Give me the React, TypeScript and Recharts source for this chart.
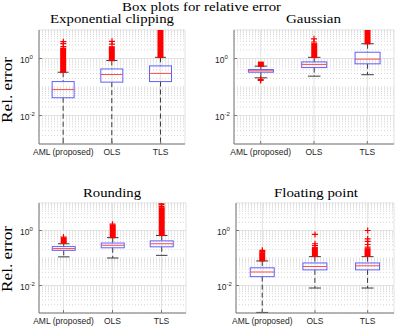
import { Bar, CartesianGrid, ComposedChart, Scatter, XAxis, YAxis } from "recharts";

const CATEGORIES = ["AML (proposed)", "OLS", "TLS"];
const Y_DOMAIN = [0.001, 10];
const MAJOR_TICKS = [0.01, 1];
const MINOR_TICKS = [
  0.001, 0.002, 0.003, 0.004, 0.005, 0.006, 0.007, 0.008, 0.009,
  0.02, 0.03, 0.04, 0.05, 0.06, 0.07, 0.08, 0.09,
  0.1, 0.2, 0.3, 0.4, 0.5, 0.6, 0.7, 0.8, 0.9,
  2, 3, 4, 5, 6, 7, 8, 9, 10,
];

// each box: [lower whisker, q1, median, q3, upper whisker]
type BoxStat = [number, number, number, number, number];

const EXP_BOXES: BoxStat[] = [
  [0.0005, 0.042, 0.081, 0.155, 0.33],
  [0.0005, 0.148, 0.275, 0.43, 0.85],
  [0.0005, 0.155, 0.3, 0.55, 1.1],
];
const EXP_DENSE = [[0.34, 2.2], [0.87, 2.5], [1.12, 10]];
const EXP_SPARSE = [[2.6, 3.3, 3.9], [3.2, 4.0], []];

const GAUSS_BOXES: BoxStat[] = [
  [0.21, 0.33, 0.37, 0.41, 0.54],
  [0.24, 0.48, 0.62, 0.76, 1.1],
  [0.27, 0.65, 0.95, 1.66, 3.3],
];
const GAUSS_DENSE = [[0.55, 0.72], [1.12, 3.2], [3.4, 10]];
const GAUSS_SPARSE = [[0.185, 0.17], [3.8, 4.9], []];

const ROUND_BOXES: BoxStat[] = [
  [0.11, 0.19, 0.22, 0.26, 0.33],
  [0.1, 0.235, 0.29, 0.35, 0.55],
  [0.125, 0.255, 0.33, 0.42, 0.66],
];
const ROUND_DENSE = [[0.36, 0.52], [0.57, 1.5], [0.68, 6.5]];
const ROUND_SPARSE = [[0.58], [1.7], [7.5, 8.7, 9.8]];

const FLOAT_BOXES: BoxStat[] = [
  [0.00105, 0.021, 0.031, 0.044, 0.078],
  [0.0081, 0.037, 0.049, 0.066, 0.112],
  [0.0081, 0.037, 0.052, 0.066, 0.112],
];
const FLOAT_DENSE = [[0.082, 0.15], [0.118, 0.23], [0.118, 0.21]];
const FLOAT_SPARSE = [[0.17, 0.19], [0.28, 0.33, 0.72], [0.25, 0.31, 0.4, 0.5, 1.0]];

const SANS = "'Liberation Sans', Arial, sans-serif";
const SERIF = "'Liberation Serif', 'Times New Roman', serif";
const BORDER = "#7a7a7a";
const BOX_BLUE = "#5f5fff";
const MEDIAN_RED = "#ff4a4a";
const OUTLIER_RED = "#ff0000";
const WHISKER = "#3a3a3a";

function toRows(boxes: BoxStat[], dense: number[][]) {
  return CATEGORIES.map((name, i) => {
    const [lo, q1, med, q3, hi] = boxes[i];
    return { name, low: [lo, q1], up: [q3, hi], box: [q1, q3], med: [q1, med], dense: dense[i] };
  });
}

function toOutliers(sparse: number[][]) {
  return CATEGORIES.flatMap((name, i) => sparse[i].map((v) => ({ name, v })));
}

const BoxShape = (p: any) => (
  <rect x={p.x} y={p.y} width={p.width} height={p.height} fill="none" stroke={BOX_BLUE} strokeWidth={1} />
);

const MedianShape = (p: any) => (
  <line x1={p.x} x2={p.x + p.width} y1={p.y} y2={p.y} stroke={MEDIAN_RED} strokeWidth={1} />
);

const UpperWhisker = (p: any) => {
  const cx = p.x + p.width / 2;
  return (
    <g>
      <line x1={cx} x2={cx} y1={p.y} y2={p.y + p.height} stroke={WHISKER} strokeDasharray="5 3" />
      <line x1={cx - p.width / 4} x2={cx + p.width / 4} y1={p.y} y2={p.y} stroke={WHISKER} />
    </g>
  );
};

const LowerWhisker = (p: any) => {
  const cx = p.x + p.width / 2;
  const yb = p.y + p.height;
  return (
    <g>
      <line x1={cx} x2={cx} y1={p.y} y2={yb} stroke={WHISKER} strokeDasharray="5 3" />
      <line x1={cx - p.width / 4} x2={cx + p.width / 4} y1={yb} y2={yb} stroke={WHISKER} />
    </g>
  );
};

const DenseOutliers = (p: any) => {
  const cx = p.x + p.width / 2;
  return <rect x={cx - 3} y={p.y - 1} width={6} height={p.height + 2} fill={OUTLIER_RED} />;
};

const PlusShape = (p: any) => (
  <path d={`M${p.cx - 3},${p.cy}H${p.cx + 3}M${p.cx},${p.cy - 3}V${p.cy + 3}`} stroke={OUTLIER_RED} strokeWidth={1.2} />
);

const YTickLabel = (p: any) => {
  const exp = Math.round(Math.log10(p.payload.value));
  return (
    <g>
      <line x1={p.x} x2={p.x + 3} y1={p.y} y2={p.y} stroke={BORDER} />
      <text x={p.x - 19} y={p.y + 4} fontSize={8.5} fontFamily={SANS} fill="#262626">
        10
        <tspan dy={-4} fontSize={6}>
          {exp}
        </tspan>
      </text>
    </g>
  );
};

const MinorLeft = (p: any) => <line x1={p.x} x2={p.x + 1.5} y1={p.y} y2={p.y} stroke={BORDER} />;
const MinorRight = (p: any) => <line x1={p.x} x2={p.x - 1.5} y1={p.y} y2={p.y} stroke={BORDER} />;
const MajorRight = (p: any) => <line x1={p.x} x2={p.x - 3} y1={p.y} y2={p.y} stroke={BORDER} />;

const XTickLabel = (p: any) => (
  <g>
    <line x1={p.x} x2={p.x} y1={p.y} y2={p.y - 3} stroke={BORDER} />
    <text x={p.x} y={p.y + 11} textAnchor="middle" fontSize={8.5} fontFamily={SANS} fill="#262626">
      {p.payload.value}
    </text>
  </g>
);

const TopTick = (p: any) => <line x1={p.x} x2={p.x} y1={p.y} y2={p.y + 3} stroke={BORDER} />;

type PanelProps = {
  boxes: BoxStat[];
  dense: number[][];
  sparse: number[][];
  left: number;
  right: number;
  top: number;
  bottom: number;
};

function BoxPanel({ boxes, dense, sparse, left, right, top, bottom }: PanelProps) {
  const rows = toRows(boxes, dense);
  const outliers = toOutliers(sparse);
  const logAxis = { type: "number" as const, scale: "log" as const, domain: Y_DOMAIN, allowDataOverflow: true };
  return (
    <div style={{ position: "absolute", left: 0, top: 0 }}>
      <ComposedChart
        width={399}
        height={330}
        data={rows}
        barCategoryGap="27%"
        margin={{ top, left: left - 30, right: 399 - right, bottom: 330 - bottom - 14 }}
      >
        <XAxis
          dataKey="name"
          type="category"
          allowDuplicatedCategory={false}
          height={14}
          interval={0}
          tickSize={0}
          tickMargin={0}
          tickLine={false}
          axisLine={{ stroke: BORDER }}
          tick={XTickLabel}
        />
        <XAxis
          xAxisId="top"
          orientation="top"
          dataKey="name"
          allowDuplicatedCategory={false}
          height={0}
          interval={0}
          tickSize={0}
          tickMargin={0}
          tickLine={false}
          axisLine={{ stroke: BORDER }}
          tick={TopTick}
        />
        {["b1", "b2", "b3", "b5"].map((id) => (
          <XAxis key={id} xAxisId={id} dataKey="name" type="category" hide />
        ))}
        <YAxis
          {...logAxis}
          ticks={MAJOR_TICKS}
          interval={0}
          width={30}
          tickSize={0}
          tickMargin={0}
          tickLine={false}
          axisLine={{ stroke: BORDER }}
          tick={YTickLabel}
        />
        <YAxis yAxisId="minor" {...logAxis} ticks={MINOR_TICKS} interval={0} width={0} tickSize={0} tickMargin={0} tickLine={false} axisLine={false} tick={MinorLeft} />
        <YAxis yAxisId="right" orientation="right" {...logAxis} ticks={MAJOR_TICKS} interval={0} width={0} tickSize={0} tickMargin={0} tickLine={false} axisLine={{ stroke: BORDER }} tick={MajorRight} />
        <YAxis yAxisId="minorRight" orientation="right" {...logAxis} ticks={MINOR_TICKS} interval={0} width={0} tickSize={0} tickMargin={0} tickLine={false} axisLine={false} tick={MinorRight} />
        <YAxis yAxisId="sc" dataKey="v" {...logAxis} hide />
        <CartesianGrid yAxisId="minor" vertical={false} stroke="#d4d4d4" strokeDasharray="1 2" />
        <CartesianGrid stroke="#e2e2e2" />
        <Bar xAxisId="b1" dataKey="low" shape={LowerWhisker} isAnimationActive={false} />
        <Bar xAxisId="b2" dataKey="up" shape={UpperWhisker} isAnimationActive={false} />
        <Bar xAxisId="b3" dataKey="dense" shape={DenseOutliers} isAnimationActive={false} />
        <Bar dataKey="box" shape={BoxShape} isAnimationActive={false} />
        <Bar xAxisId="b5" dataKey="med" shape={MedianShape} isAnimationActive={false} />
        <Scatter yAxisId="sc" data={outliers} dataKey="v" shape={PlusShape} isAnimationActive={false} />
      </ComposedChart>
    </div>
  );
}

function Titles() {
  const t = { fontFamily: SERIF, fontSize: 13, fill: "#000", textAnchor: "middle" as const, lengthAdjust: "spacingAndGlyphs" };
  return (
    <svg width={399} height={330} style={{ position: "absolute", left: 0, top: 0 }}>
      <text {...t} x={201.5} y={11} textLength={159}>Box plots for relative error</text>
      <text {...t} x={112} y={23} textLength={124}>Exponential clipping</text>
      <text {...t} x={313.5} y={23} textLength={55}>Gaussian</text>
      <text {...t} x={112} y={197} textLength={58}>Rounding</text>
      <text {...t} x={316} y={197} textLength={84}>Floating point</text>
      <text {...t} fontSize={15} x={12} y={90} textLength={66} transform="rotate(-90 12 90)">Rel. error</text>
      <text {...t} fontSize={15} x={12} y={259} textLength={66} transform="rotate(-90 12 259)">Rel. error</text>
    </svg>
  );
}

export default function App() {
  return (
    <div style={{ position: "absolute", left: 0, top: 0, width: 399, height: 330, background: "#fff" }}>
      <Titles />
      <BoxPanel boxes={EXP_BOXES} dense={EXP_DENSE} sparse={EXP_SPARSE} left={39} right={185} top={30} bottom={144} />
      <BoxPanel boxes={GAUSS_BOXES} dense={GAUSS_DENSE} sparse={GAUSS_SPARSE} left={234} right={394} top={30} bottom={144} />
      <BoxPanel boxes={ROUND_BOXES} dense={ROUND_DENSE} sparse={ROUND_SPARSE} left={39} right={186} top={203} bottom={313} />
      <BoxPanel boxes={FLOAT_BOXES} dense={FLOAT_DENSE} sparse={FLOAT_SPARSE} left={236} right={394} top={203} bottom={313} />
    </div>
  );
}
